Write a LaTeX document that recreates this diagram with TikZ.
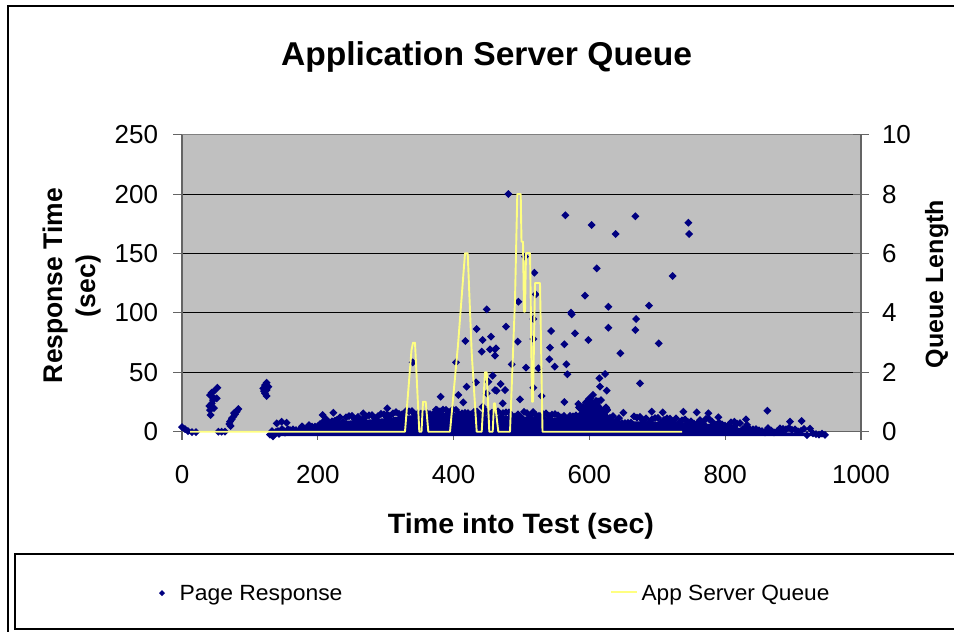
\documentclass[tikz,border=0pt]{standalone}
\usepackage{fontspec}
\setmainfont{Liberation Sans}
\usepackage{graphicx}
\definecolor{navy}{RGB}{0,0,128}
\definecolor{plotgray}{RGB}{192,192,192}
\definecolor{qyellow}{RGB}{255,255,128}
\definecolor{axisgray}{RGB}{100,100,100}
\newcommand\fsz[1]{\fontsize{#1}{#1}\selectfont}
\newcommand\wtxt[3]{\resizebox{#1pt}{\height}{\fsz{#2}#3}}
\tikzset{
  lbl/.style={inner sep=0pt, outer sep=0pt},
  grid line/.style={black, line width=1pt},
  axis line/.style={axisgray, line width=1.1pt},
  queue line/.style={qyellow, line width=1.9pt, line join=round},
}
\begin{document}
\begin{tikzpicture}[x=1pt,y=-1pt]
\useasboundingbox (0,0) rectangle (954,632);
\clip (0,0) rectangle (954,632);
\fill[white] (0,0) rectangle (954,632);
% outer frame
\draw[black, line width=1.2pt] (8,640) -- (8,6) -- (960,6);
% title
\node[lbl, anchor=base] (title) at (486.5,65) {\wtxt{411}{33}{\bfseries Application Server Queue}};
% plot area
\fill[plotgray] (182,134.7) rectangle (861,431.7);
\foreach \yy in {194.1,253.5,312.9,372.3} \draw[grid line] (182,\yy) -- (861,\yy);
\draw[gray, line width=1pt] (182,134.7) -- (861,134.7);
% axes
\draw[axis line] (182,134.7) -- (182,431.7) -- (861,431.7) -- (861,134.7);
\foreach \yy in {134.7,194.1,253.5,312.9,372.3,431.7} {
  \draw[axis line] (173,\yy) -- (182,\yy);
  \draw[axis line] (853,\yy) -- (869,\yy);
}
\foreach \xx in {182,317.8,453.6,589.4,725.2,861} \draw[axis line] (\xx,431.7) -- (\xx,440);
% tick labels
\foreach \v/\yy in {0/431.7,50/372.3,100/312.9,150/253.5,200/194.1,250/134.7}
  \node[lbl, anchor=base east] (yl\v) at (158,\yy+9) {\fsz{26}\v};
\foreach \v/\yy in {0/431.7,2/372.3,4/312.9,6/253.5,8/194.1,10/134.7}
  \node[lbl, anchor=base west] (yr\v) at (882,\yy+9) {\fsz{26}\v};
\foreach \v/\xx in {0/182,200/317.8,400/453.6,600/589.4,800/725.2,1000/861}
  \node[lbl, anchor=base] (xl\v) at (\xx,483) {\fsz{26}\v};
% axis titles
\node[lbl, anchor=base] (xtitle) at (521,533) {\wtxt{266}{28}{\bfseries Time into Test (sec)}};
\node[lbl, anchor=base, rotate=90] (ytitle) at (62,285.5) {\wtxt{195}{27}{\bfseries Response Time}};
\node[lbl, anchor=base, rotate=90] (ytitleb) at (95,286) {\wtxt{62}{27}{\bfseries (sec)}};
\node[lbl, anchor=base, rotate=90] (y2title) at (943,284) {\wtxt{168}{25}{\bfseries Queue Length}};
% dense band of responses
\fill[navy] (270,435) -- (270,435) -- (290,433) -- (303,430) -- (320,424) -- (337,421) -- (363,420) -- (387,418) -- (403,416) -- (437,413) -- (453,413) -- (480,416) -- (503,416) -- (543,417) -- (573,419) -- (580,411) -- (590,399) -- (598,401) -- (607,413) -- (613,421) -- (667,422) -- (713,424) -- (747,429) -- (780,432) -- (826,434) -- (826,436) -- (270,436) -- cycle;
\pgfmathsetseed{11}
\foreach \xa/\ya/\xb/\yb in {270/430/290/428, 290/428/303/425, 303/425/320/419, 320/419/337/416, 337/416/363/415, 363/415/387/413, 387/413/403/411, 403/411/437/408, 437/408/453/408, 453/408/480/411, 480/411/503/411, 503/411/543/412, 543/412/573/414, 573/414/580/406, 580/406/590/394, 590/394/598/396, 598/396/607/408, 607/408/613/416, 613/416/667/417, 667/417/713/419, 713/419/747/424, 747/424/780/427, 780/427/826/429} {
  \pgfmathtruncatemacro\nn{(\xb-\xa)/3}
  \foreach \i in {0,...,\nn} {
    \pgfmathsetmacro\px{\xa+3*\i}
    \pgfmathsetmacro\py{\ya+(\yb-\ya)*3*\i/(\xb-\xa)+7*rnd}
    \fill[navy] (\px,\py) +(-4,0) -- +(0,-4) -- +(4,0) -- +(0,4) -- cycle;
  }
}
% individual responses
\fill[navy] \foreach \x/\y in {
182/427,185/429,188/431,192/432,196/432,
217.3/387.7,215/390,211.7/392.7,210/395,212.7/396.7,216.7/398.3,211.7/403.3,209.3/406,210/410,210.7/415,213/400,214/408,
218.3/431.7,221.7/431.7,225/431.7,
238.3/409,236.7/411.7,235/414.3,233.3/416.7,231.7/419.3,230/421.7,229.3/424,230.7/426,234/413,232/418,
266.7/382.7,265/385,268.3/386.7,263.3/388.3,266.7/390,265/393.3,266.7/396,264/391,
276.7/423.3,281.7/421.7,286.7/422.7,272/431,278/431,284/431,290/430,296/430,
322.7/415,333.3/412.7,363.3/413.3,387.3/408.3,412.7/362.3,440.7/396.7,456/362.3,458.3/395,463.3/402.3,465.3/341,466.7/386.7,476/382.3,476.7/329,481.7/351.7,482.7/340,482.7/406.7,486.7/309.3,486.7/393.3,488.3/381.7,491/336.7,490/349.3,492.7/375.7,495/349.3,495/355.7,495/390,496/348.3,496.7/390.7,500.7/384,502.7/403.3,505/390,506/326.7,508.3/194,511.7/364.3,517.7/341.7,518.3/301.7,520/399.3,525/256.7,526/367.7,533.3/319,533.3/339,533.3/387.7,534.3/272.7,535.7/294.3,538.3/368.3,541.7/396,549.3/359.3,550/347.7,551/331,554.7/366.7,564.3/344.3,564.3/402,565.3/215.3,566.3/364.3,567.3/374.3,571/312.7,571.7/314.3,575/333.3,578.3/404,585/295.7,588.3/340,591.7/225,596.7/268.3,599.3/378.3,600/386.7,605/374,606/407.3,606.7/390.7,608.3/306.7,608.3/327.7,615.7/234,620.3/353.3,623.3/412.7,635.3/216.3,635.3/330,636/319,640/383.3,649/305.7,651.7/411.7,658.7/343.3,662.7/412.3,672.7/276,683.3/411.7,688.3/222.7,689/234,696.7/412.3,708.3/413.3,718.3/417.3,734.3/421.7,746/419.3,767.3/410.7,790/421.7,801.7/421}
  {(\x,\y) +(-4,0) -- +(0,-4) -- +(4,0) -- +(0,4) -- cycle};
% queue length line
\draw[queue line] (190,431.7) -- (405,431.7) -- (411.5,350) -- (413,342.7) -- (415,342.7) -- (419.3,431.7) -- (421.5,431.7) -- (423,401.7) -- (425.7,401.7) -- (428.3,431.7) -- (450,431.7) -- (458,345) -- (465,253.3) -- (467.7,253.3) -- (471.7,353) -- (476.7,431.7) -- (481.7,431.7) -- (485,372.3) -- (486.7,372.3) -- (489.3,431.7) -- (492.7,431.7) -- (494,403.3) -- (495,403.3) -- (498.3,431.7) -- (510,431.7) -- (515,300) -- (517.3,194) -- (520.7,194) -- (521.5,241.7) -- (523,241.7) -- (524,311.7) -- (525,311.7) -- (526,253) -- (530,253) -- (530.5,283) -- (532,401.7) -- (533,401.7) -- (535,283) -- (540,283) -- (542.5,431.7) -- (682,431.7);
% legend
\draw[black, line width=1.1pt] (15,554) rectangle (970,629);
\fill[navy] (162,593) +(-3,0) -- +(0,-3) -- +(3,0) -- +(0,3) -- cycle;
\node[lbl, anchor=base west] (leg1) at (179.5,600) {\wtxt{163}{22}{Page Response}};
\coordinate (legqa) at (611,592);
\coordinate (legqb) at (637,592);
\draw[queue line] (legqa) -- (legqb);
\node[lbl, anchor=base west] (leg2) at (641.5,600) {\wtxt{188}{22}{App Server Queue}};
\end{tikzpicture}
\end{document}
